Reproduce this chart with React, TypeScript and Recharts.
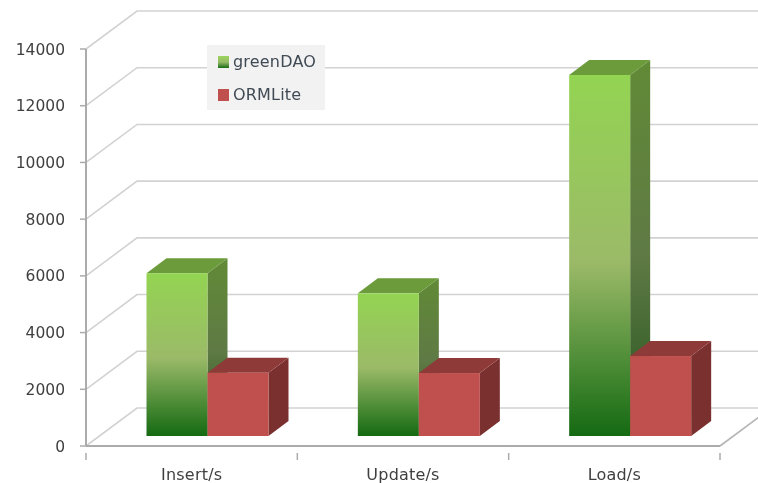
import React from 'react';
import { BarChart, Bar, XAxis, YAxis, CartesianGrid, Legend } from 'recharts';

const categories = ['Insert/s', 'Update/s', 'Load/s'];
const seriesNames = ['greenDAO', 'ORMLite'];
const greenDAO = [5740, 5030, 12730];
const ormLite = [2230, 2220, 2820];
const yTicks = [0, 2000, 4000, 6000, 8000, 10000, 12000, 14000];
const rows = categories.map((c, i) => ({ c, greenDAO: greenDAO[i], ORMLite: ormLite[i] }));

const W = 758, H = 483;
const BAND = 634 / 3;
const WALL = { dx: 51, dy: -38 };
const BAR_SHIFT = { dx: 15.5, dy: -10 };
const DEPTH = { dx: 20, dy: -15 };
const GRID = '#d2d2d2';
const AXIS = '#ababab';
const TEXT = '#3f3f3f';
const FONT = '"DejaVu Sans", sans-serif';

function Box({ x, y, width, height, front, top, side }: any) {
  const X = x + BAR_SHIFT.dx, Y = y + BAR_SHIFT.dy, R = X + width, B = Y + height;
  const { dx, dy } = DEPTH;
  return (
    <g>
      <polygon points={`${R},${Y} ${R + dx},${Y + dy} ${R + dx},${B + dy} ${R},${B}`} fill={side} />
      <polygon points={`${X},${Y} ${X + dx},${Y + dy} ${R + dx},${Y + dy} ${R},${Y}`} fill={top} />
      <rect x={X} y={Y} width={width} height={height} fill={front} />
    </g>
  );
}
const GreenBox = (p: any) => <Box {...p} front="url(#gFront)" top="#6b9b3a" side="url(#gSide)" />;
const RedBox = (p: any) => <Box {...p} front="#c0504d" top="#8e3a38" side="#7a302e" />;

function gridLine(p: any) {
  const { x1, x2, y1, index } = p;
  const isFloor = Math.abs(y1 - 446) < 1;
  return (
    <g key={`g${index}`} fill="none" stroke={GRID} strokeWidth={1.6}>
      <polyline points={`${x1},${y1} ${x1 + WALL.dx},${y1 + WALL.dy} ${W + 20},${y1 + WALL.dy}`} />
      {isFloor && <line x1={x2} y1={y1} x2={x2 + WALL.dx} y2={y1 + WALL.dy} stroke="#b5b5b5" />}
    </g>
  );
}

function XTick({ x, y, payload, index }: any) {
  return (
    <g>
      <line x1={x - BAND / 2} x2={x - BAND / 2} y1={y - 1} y2={y + 6} stroke={AXIS} strokeWidth={1.5} />
      {index === categories.length - 1 && (
        <line x1={x + BAND / 2} x2={x + BAND / 2} y1={y - 1} y2={y + 6} stroke={AXIS} strokeWidth={1.5} />
      )}
      <text x={x} y={y + 26} textAnchor="middle" fill={TEXT} fontSize={16} letterSpacing={0.2} fontFamily={FONT}>{payload.value}</text>
    </g>
  );
}

function LegendBox({ payload }: any) {
  const swatches: Record<string, string> = {
    greenDAO: 'linear-gradient(#9ad45c, #97bb68 50%, #1a6c16)',
    ORMLite: '#c0504d',
  };
  const items = [...(payload || [])].sort((a: any, b: any) => seriesNames.indexOf(a.value) - seriesNames.indexOf(b.value));
  return (
    <div style={{ width: 118, height: 65, background: '#f2f2f2', position: 'relative' }}>
      {items.map((e: any, i: number) => (
        <div key={e.value} style={{ position: 'absolute', left: 11, top: 11 + i * 33, display: 'flex', alignItems: 'center', height: 12 }}>
          <span style={{ width: 11, height: 12, background: swatches[e.value], display: 'block' }} />
          <span style={{ marginLeft: 4, font: `16px ${FONT}`, letterSpacing: 0.2, color: '#404a55', lineHeight: '12px' }}>{e.value}</span>
        </div>
      ))}
    </div>
  );
}

export default function App() {
  return (
    <div style={{ position: 'absolute', left: 0, top: 0, width: W, height: H, background: '#fff', overflow: 'hidden', filter: 'blur(0.4px)' }}>
      <BarChart width={W} height={H} data={rows} margin={{ top: 49, right: 38, bottom: 0, left: 0 }} barSize={61} barGap={0}>
        <defs>
          <linearGradient id="gFront" x1="0" y1="0" x2="0" y2="1">
            <stop offset="0" stopColor="#93d452" />
            <stop offset="0.52" stopColor="#9bba68" />
            <stop offset="1" stopColor="#146a12" />
          </linearGradient>
          <linearGradient id="gSide" x1="0" y1="0" x2="0" y2="1">
            <stop offset="0" stopColor="#618a36" />
            <stop offset="0.52" stopColor="#5f7a45" />
            <stop offset="1" stopColor="#24531c" />
          </linearGradient>
        </defs>
        <CartesianGrid vertical={false} horizontal={gridLine} />
        <XAxis dataKey="c" height={37} interval={0} tick={<XTick />} tickLine={false} axisLine={{ stroke: AXIS, strokeWidth: 2 }} />
        <YAxis
          width={86}
          domain={[0, 14000]}
          ticks={yTicks}
          interval={0}
          tickSize={6}
          tickMargin={15}
          tickLine={{ stroke: AXIS, strokeWidth: 1.5 }}
          axisLine={{ stroke: AXIS, strokeWidth: 2 }}
          tick={{ fill: TEXT, fontSize: 15.5, fontFamily: FONT }}
        />
        <Legend content={<LegendBox />} layout="vertical" align="center" verticalAlign="middle" wrapperStyle={{ left: 207, top: 45, width: 118, height: 65 }} />
        <Bar dataKey="greenDAO" name="greenDAO" fill="#9bba68" shape={GreenBox} isAnimationActive={false} />
        <Bar dataKey="ORMLite" name="ORMLite" fill="#c0504d" shape={RedBox} isAnimationActive={false} />
      </BarChart>
    </div>
  );
}
